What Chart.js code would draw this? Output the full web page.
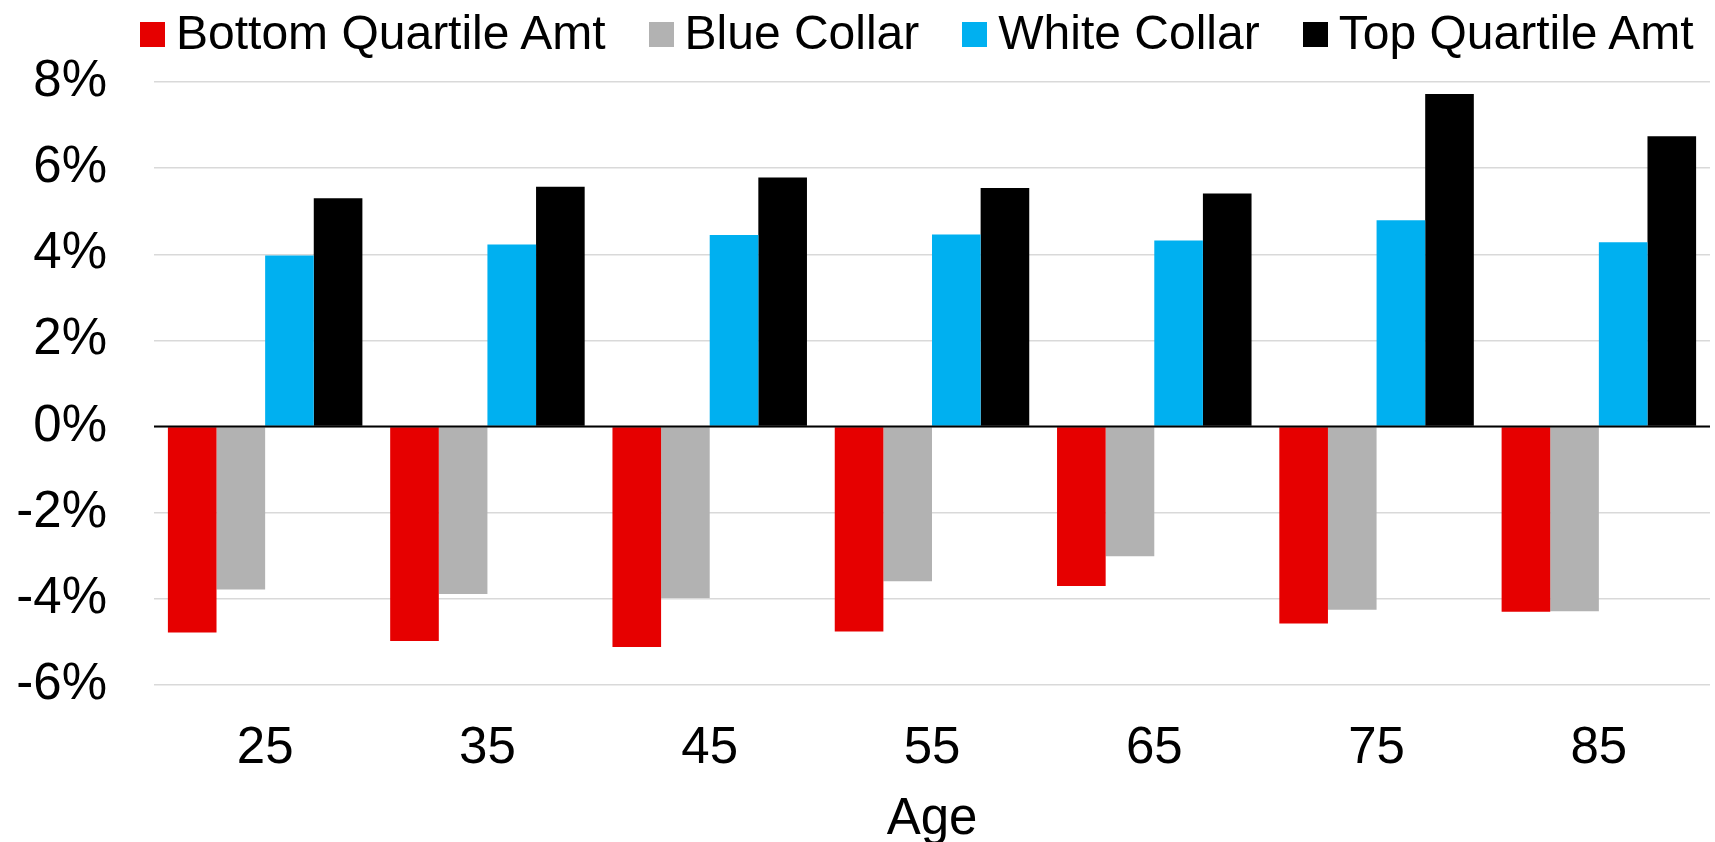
<!DOCTYPE html>
<html>
<head>
<meta charset="utf-8">
<title>Age chart</title>
<script src="https://cdn.jsdelivr.net/npm/chart.js@4.4.1/dist/chart.umd.min.js"></script>
<style>
    html, body { margin: 0; padding: 0; background: #fff; }
    .chart-wrapper { position: relative; width: 1715px; height: 842px; overflow: hidden; }
    .chart-legend {
        position: absolute; left: 140px; top: 22px; height: 25px;
        display: flex; align-items: center;
        font-family: "Liberation Sans", Arial, sans-serif; font-size: 48px; color: #000;
    }
    .legend-item { display: flex; align-items: center; margin-right: 43px; white-space: nowrap; }
    .legend-box { width: 25px; height: 25px; margin-right: 11px; flex: none; }
    .legend-text { position: relative; top: -2px; }
</style>
</head>
<body>
<div class="chart-wrapper">
    <canvas id="ageChart"></canvas>
    <div class="chart-legend" id="ageLegend"></div>
</div>
<script>
var ages = ['25', '35', '45', '55', '65', '75', '85'];
var seriesNames = ['Bottom Quartile Amt', 'Blue Collar', 'White Collar', 'Top Quartile Amt'];
var seriesColors = ['#e60000', '#b2b2b2', '#00b0f0', '#000000'];

// values in percent
var bottomQuartile = [-4.78, -4.98, -5.12, -4.76, -3.70, -4.57, -4.30];
var blueCollar = [-3.78, -3.89, -3.98, -3.59, -3.01, -4.25, -4.29];
var whiteCollar = [3.97, 4.23, 4.45, 4.46, 4.32, 4.79, 4.28];
var topQuartile = [5.30, 5.57, 5.78, 5.54, 5.41, 7.72, 6.74];

var yTicks = [-6, -4, -2, 0, 2, 4, 6, 8];

var fontFamily = '"Liberation Sans", Arial, sans-serif';

function makeDataset(i, values) {
    return {
        label: seriesNames[i],
        data: values,
        backgroundColor: seriesColors[i],
        borderWidth: 0,
        categoryPercentage: 0.875,
        barPercentage: 1.0
    };
}

// black zero line drawn over the bars
var zeroLine = {
    id: 'zeroLine',
    afterDatasetsDraw: function(chart) {
        var y = chart.scales.y.getPixelForValue(0);
        var area = chart.chartArea;
        var ctx = chart.ctx;
        ctx.save();
        ctx.strokeStyle = '#000';
        ctx.lineWidth = 2;
        ctx.beginPath();
        ctx.moveTo(area.left, y);
        ctx.lineTo(area.right, y);
        ctx.stroke();
        ctx.restore();
    }
};

var chart = new Chart(document.getElementById('ageChart'), {
    type: 'bar',
    data: {
        labels: ages,
        datasets: [
            makeDataset(0, bottomQuartile),
            makeDataset(1, blueCollar),
            makeDataset(2, whiteCollar),
            makeDataset(3, topQuartile)
        ]
    },
    options: {
        responsive: true,
        maintainAspectRatio: false,
        animation: false,
        layout: { padding: { top: 82, right: 5, bottom: 0, left: 0 } },
        plugins: {
            legend: { display: false },
            tooltip: { enabled: false }
        },
        scales: {
            x: {
                grid: { display: false, drawTicks: false },
                border: { display: false },
                ticks: {
                    color: '#000',
                    padding: 33,
                    font: { family: fontFamily, size: 51 }
                },
                title: {
                    display: true,
                    text: 'Age',
                    color: '#000',
                    font: { family: fontFamily, size: 51 },
                    padding: { top: 6, bottom: -9 }
                },
                afterFit: function(scale) { scale.height = 157; }
            },
            y: {
                min: -6,
                max: 8,
                afterBuildTicks: function(scale) {
                    scale.ticks = yTicks.map(function(v) { return { value: v }; });
                },
                grid: {
                    color: '#d9d9d9',
                    lineWidth: 1.5,
                    drawTicks: false
                },
                border: { display: false },
                ticks: {
                    color: '#000',
                    padding: 47,
                    font: { family: fontFamily, size: 51 },
                    callback: function(v) { return v + '%'; }
                },
                afterFit: function(scale) { scale.width = 154; }
            }
        }
    },
    plugins: [zeroLine]
});

function buildLegend() {
    var html = '';
    chart.data.datasets.forEach(function(ds) {
        html += '<div class="legend-item"><span class="legend-box" style="background:' + ds.backgroundColor + '"></span>';
        html += '<span class="legend-text">' + ds.label + '</span></div>';
    });
    document.getElementById('ageLegend').innerHTML = html;
}
buildLegend();
</script>
</body>
</html>
